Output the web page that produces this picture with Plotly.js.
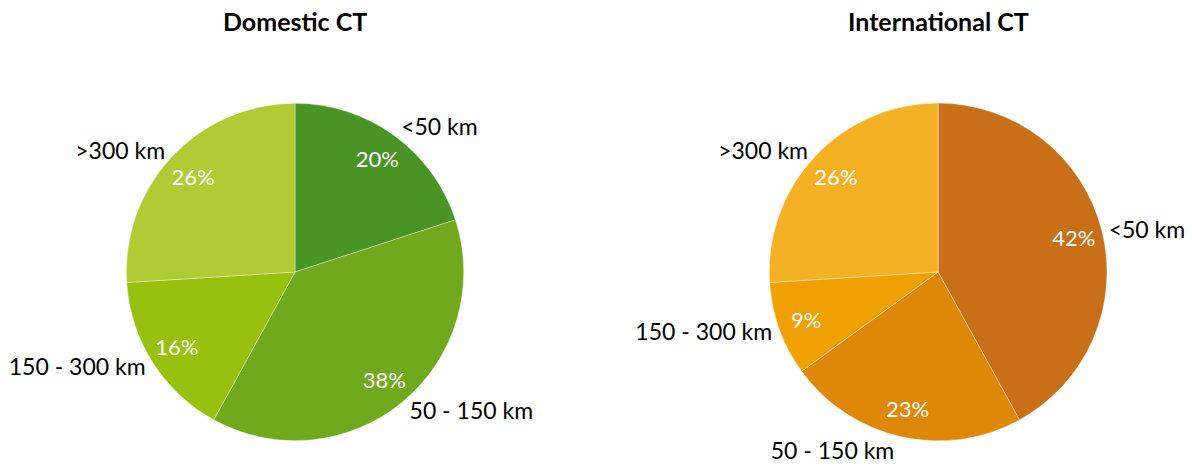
<!DOCTYPE html>
<html><head><meta charset="utf-8">
<script src="https://cdn.plot.ly/plotly-3.0.1.min.js"></script>
<style>html,body{margin:0;padding:0;background:#fff}#chart{width:1192px;height:473px}</style>
</head><body><div id="chart"></div>
<script>
const categories = ["<50 km", "50 - 150 km", "150 - 300 km", ">300 km"];
const domesticValues = [20, 38, 16, 26];
const internationalValues = [42, 23, 9, 26];
const domesticColors = ["#4a9425", "#70a91e", "#98c00f", "#b2cb34"];
const internationalColors = ["#c96f17", "#df8708", "#f0a000", "#f4b124"];
const chartTitles = ["Domestic CT", "International CT"];

const FONT = "Lato, 'Open Sans', sans-serif";
const domains = [
  {x: [0.106, 0.389], y: [0.068, 0.782]},
  {x: [0.645, 0.929], y: [0.068, 0.782]}
];
const series = [domesticValues, internationalValues];
const colors = [domesticColors, internationalColors];
const clear = categories.map(() => "rgba(0,0,0,0)");

const traces = [];
series.forEach((vals, i) => {
  const common = {type: "pie", values: vals, labels: categories, sort: false,
    direction: "clockwise", rotation: 0, domain: domains[i], showlegend: false};
  // filled slices
  traces.push(Object.assign({}, common, {
    marker: {colors: colors[i], line: {color: "rgba(255,255,255,0.6)", width: 0.6}},
    textinfo: "none", hoverinfo: "label+percent"
  }));
  // percentage labels in the outer ring
  traces.push(Object.assign({}, common, {
    hole: 0.66,
    marker: {colors: clear, line: {width: 0}},
    textinfo: "percent", texttemplate: "%{percent:.0%}",
    textposition: "inside", insidetextorientation: "horizontal",
    textfont: {family: FONT, size: 22, color: "#ffffff"},
    hoverinfo: "skip"
  }));
  // category labels outside
  traces.push(Object.assign({}, common, {
    marker: {colors: clear, line: {width: 0}},
    textinfo: "label", textposition: "outside",
    textfont: {family: FONT, size: 23, color: "#000000"},
    hoverinfo: "skip"
  }));
});

const layout = {
  width: 1192, height: 473,
  margin: {l: 0, r: 0, t: 0, b: 0},
  paper_bgcolor: "#ffffff",
  showlegend: false,
  annotations: chartTitles.map((t, i) => ({
    text: "<b>" + t + "</b>", showarrow: false,
    x: (domains[i].x[0] + domains[i].x[1]) / 2, xref: "paper",
    y: 0.955, yref: "paper", xanchor: "center", yanchor: "middle",
    font: {family: FONT, size: 25, color: "#000000"}
  }))
};
Plotly.newPlot("chart", traces, layout, {displayModeBar: false, staticPlot: true});
</script></body></html>
